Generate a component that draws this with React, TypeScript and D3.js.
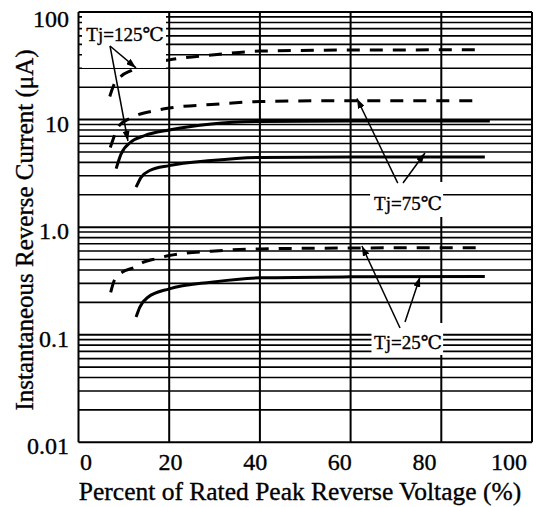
import * as d3 from "d3";

const W = 536;
const H = 507;

// axis ticks
const xTicks = [0, 20, 40, 60, 80, 100];
const yDecades = [0.01, 0.1, 1, 10, 100];
const yTickLabels = ["0.01", "0.1", "1.0", "10", "100"];

// Tj=125°C
const pct125Dash = [6.9, 7.8, 9.1, 11.6, 14, 17, 20, 30, 40, 60, 88];
const cur125Dash = [16.4, 21, 24.7, 28.5, 31.5, 34, 35.9, 40, 43.3, 44.3, 44.5];
const pct125Solid = [8.3, 9.4, 11.6, 14.6, 20, 29.3, 40, 60, 90.7];
const cur125Solid = [3.5, 4.8, 6.2, 7.1, 8.0, 9.1, 9.6, 9.7, 9.7];

// Tj=75°C
const pct75Dash = [7, 7.6, 8.7, 11.6, 16.8, 20, 29.3, 40, 60, 88];
const cur75Dash = [5.5, 6.5, 8.5, 10.4, 12.1, 12.8, 13.8, 14.7, 15, 15];
const pct75Solid = [12.7, 13.8, 15.7, 20, 29.3, 40, 60, 89.6];
const cur75Solid = [2.35, 2.9, 3.36, 3.73, 4.16, 4.45, 4.5, 4.5];

// Tj=25°C
const pct25Dash = [7.1, 7.9, 9.6, 12.2, 14.2, 17.2, 20, 29.3, 40, 60, 88];
const cur25Dash = [0.248, 0.32, 0.38, 0.42, 0.47, 0.51, 0.545, 0.597, 0.628, 0.64, 0.645];
const pct25Solid = [12.7, 13.5, 15.3, 20, 29.3, 40, 60, 89.6];
const cur25Solid = [0.146, 0.18, 0.223, 0.267, 0.308, 0.338, 0.345, 0.348];

const series = [
    {x: pct125Dash, y: cur125Dash, dashed: true},
    {x: pct125Solid, y: cur125Solid, dashed: false},
    {x: pct75Dash, y: cur75Dash, dashed: true},
    {x: pct75Solid, y: cur75Solid, dashed: false},
    {x: pct25Dash, y: cur25Dash, dashed: true},
    {x: pct25Solid, y: cur25Solid, dashed: false},
];

// annotation labels, in data units (percent, µA)
const labels = [
    {
        text: "Tj=125\u2103", x: 10.25, y: 53.8,
        box: [0.77, 19.3, 93.8, 30.2],
        arrows: [[6.95, 48.3, 12.68, 30.2], [6.95, 48.3, 10.9, 6.32]],
    },
    {
        text: "Tj=75\u2103", x: 72.65, y: 1.444,
        box: [64.3, 80.4, 2.63, 1.243],
        arrows: [[70.4, 2.57, 61.4, 15.7], [71.55, 2.57, 76.4, 4.89]],
    },
    {
        text: "Tj=25\u2103", x: 72.65, y: 0.0737,
        box: [64.6, 80.4, 0.1286, 0.0648],
        arrows: [[70.9, 0.1155, 62.5, 0.668], [72.0, 0.131, 75.3, 0.344]],
    },
];

const font = "Liberation Serif, DejaVu Serif, Times New Roman, serif";

export default function App() {
    const x = d3.scaleLinear().domain([0, 100]).range([78.5, 532]);
    const y = d3.scaleLog().domain([0.01, 100]).range([442.3, 12]);
    // tick labels in the original sit slightly inside the frame
    const xLabel = d3.scaleLinear().domain([0, 100]).range([86, 509]);

    const minor: number[] = [];
    yDecades.slice(0, -1).forEach(d => {
        for (let k = 2; k <= 9; k++) minor.push(d * k);
    });

    const line = d3.line<[number, number]>()
        .x(d => x(d[0]))
        .y(d => y(d[1]))
        .curve(d3.curveMonotoneX);

    // scanned text is a bit heavier than the plain font
    const ink = {fill: "#000", stroke: "#000", strokeWidth: 0.35};

    return (
        <svg width={W} height={H} style={{position: "absolute", left: 0, top: 0, background: "#fff", fontFamily: font}}>
            <defs>
                <marker id="ah" viewBox="0 0 10 7" refX="10" refY="3.5" markerWidth="10" markerHeight="7"
                        markerUnits="userSpaceOnUse" orient="auto">
                    <path d="M0,0 L10,3.5 L0,7 z" fill="#000"/>
                </marker>
            </defs>

            {/* grid */}
            {minor.map((v, i) => (
                <line key={"m" + i} x1={x(0)} x2={x(100)} y1={y(v)} y2={y(v)} stroke="#000" strokeWidth={1.6}/>
            ))}
            {yDecades.map((v, i) => (
                <line key={"d" + i} x1={x(0)} x2={x(100)} y1={y(v)} y2={y(v)} stroke="#000" strokeWidth={2}/>
            ))}
            {xTicks.map((v, i) => (
                <line key={"v" + i} x1={x(v)} x2={x(v)} y1={y(100)} y2={y(0.01)} stroke="#000" strokeWidth={2}/>
            ))}

            {/* curves */}
            {series.map((s, i) => (
                <path key={"s" + i} d={line(s.x.map((p, j) => [p, s.y[j]] as [number, number])) || ""}
                      fill="none" stroke="#000" strokeWidth={3}
                      strokeDasharray={s.dashed ? "13 10" : undefined}/>
            ))}

            {/* annotations */}
            {labels.map((l, i) => (
                <g key={"l" + i}>
                    <rect x={x(l.box[0])} y={y(l.box[2])} width={x(l.box[1]) - x(l.box[0])}
                          height={y(l.box[3]) - y(l.box[2])} fill="#fff"/>
                    <text x={x(l.x)} y={y(l.y)} textAnchor="middle" fontSize={19} {...ink}>{l.text}</text>
                    {l.arrows.map((a, j) => (
                        <line key={j} x1={x(a[0])} y1={y(a[1])} x2={x(a[2])} y2={y(a[3])}
                              stroke="#000" strokeWidth={1.5} markerEnd="url(#ah)"/>
                    ))}
                </g>
            ))}

            {/* tick labels */}
            {yDecades.map((v, i) => (
                <text key={"yl" + i} x={69} y={Math.max(y(v) + 12, 27)} textAnchor="end" fontSize={24} {...ink}>
                    {yTickLabels[i]}
                </text>
            ))}
            {xTicks.map((v, i) => (
                <text key={"xl" + i} x={xLabel(v)} y={470} textAnchor="middle" fontSize={24} {...ink}>{v}</text>
            ))}

            {/* axis titles */}
            <text x={300} y={500} textAnchor="middle" fontSize={25.5} {...ink}>
                Percent of Rated Peak Reverse Voltage (%)
            </text>
            <text transform="translate(33,230) rotate(-90)" textAnchor="middle" fontSize={25} {...ink}>
                Instantaneous Reverse Current (μA)
            </text>
        </svg>
    );
}
